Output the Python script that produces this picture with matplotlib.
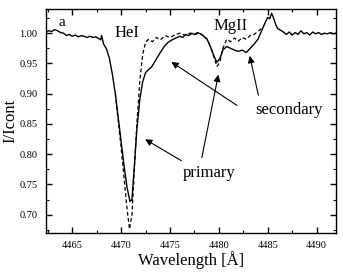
import matplotlib
matplotlib.use("Agg")
import matplotlib.pyplot as plt
from matplotlib.ticker import MultipleLocator

# solid spectrum
wl_solid = [4462.3, 4462.6, 4462.9, 4463.2, 4463.5, 4463.8, 4464.1, 4464.4, 4464.7, 4465.0,
            4465.3, 4465.6, 4465.9, 4466.2, 4466.5, 4466.8, 4467.1, 4467.4, 4467.7, 4467.9,
            4468.0, 4468.2, 4468.5, 4468.8, 4469.1, 4469.4, 4469.7, 4470.0,
            4470.3, 4470.6, 4470.9, 4471.1, 4471.3, 4471.6, 4471.9, 4472.2, 4472.5, 4472.8,
            4473.1, 4473.4, 4473.7, 4474.0, 4474.4, 4474.8, 4475.2, 4475.6, 4476.0, 4476.3,
            4476.6, 4476.9, 4477.2, 4477.5, 4477.8, 4478.1, 4478.4, 4478.8, 4479.2, 4479.5,
            4479.8, 4480.1, 4480.4, 4480.8, 4481.2, 4481.6, 4482.0, 4482.4, 4482.8, 4483.2,
            4483.6, 4484.0, 4484.4, 4484.8, 4485.0, 4485.2, 4485.4, 4485.6, 4485.8, 4486.0,
            4486.3, 4486.6, 4486.9, 4487.2, 4487.5, 4487.8, 4488.1, 4488.4, 4488.7, 4489.0,
            4489.3, 4489.6, 4489.9, 4490.2, 4490.5, 4490.8, 4491.1, 4491.4, 4491.7, 4492.0]
flux_solid = [1.002, 1.004, 1.003, 1.006, 1.004, 1.001, 1.000, 0.996, 0.998, 0.995,
              0.997, 0.994, 0.996, 0.995, 0.993, 0.995, 0.993, 0.994, 0.991, 0.989,
              0.996, 0.982, 0.974, 0.958, 0.932, 0.900, 0.860, 0.820,
              0.780, 0.745, 0.722, 0.725, 0.770, 0.840, 0.890, 0.920, 0.935, 0.940,
              0.944, 0.952, 0.960, 0.968, 0.978, 0.985, 0.989, 0.992, 0.995, 0.993,
              0.998, 0.996, 1.000, 0.998, 1.001, 0.999, 0.996, 0.990, 0.975, 0.962,
              0.952, 0.958, 0.972, 0.978, 0.975, 0.972, 0.970, 0.972, 0.968, 0.975,
              0.982, 0.990, 1.005, 1.020, 1.026, 1.024, 1.033, 1.025, 1.015, 1.008,
              1.005, 1.002, 0.998, 1.002, 0.997, 1.001, 0.998, 1.004, 0.999, 1.001,
              0.997, 1.002, 0.999, 1.001, 0.998, 1.000, 0.999, 1.001, 0.999, 1.000]

# dashed spectrum where it departs from the solid one
wl_dash = [4469.4, 4469.7, 4470.0, 4470.3, 4470.6, 4470.85, 4471.1, 4471.3, 4471.6, 4471.9,
           4472.2, 4472.5, 4472.8, 4473.2, 4473.6, 4474.0, 4474.5, 4475.0, 4475.6, 4476.0,
           4476.5, 4477.0, 4477.5, 4478.0, 4478.4, 4478.8, 4479.2, 4479.5, 4479.8, 4480.1,
           4480.4, 4480.8, 4481.2, 4481.6, 4482.0, 4482.4, 4482.8, 4483.2, 4483.6, 4484.0,
           4484.4]
flux_dash = [0.900, 0.855, 0.810, 0.760, 0.710, 0.676, 0.700, 0.760, 0.850, 0.920,
             0.965, 0.985, 0.990, 0.986, 0.993, 0.989, 0.996, 0.993, 0.998, 1.000,
             0.997, 1.000, 0.998, 1.000, 0.996, 0.990, 0.975, 0.960, 0.945, 0.952,
             0.975, 0.990, 0.986, 0.992, 0.987, 0.993, 0.990, 0.996, 0.998, 1.003,
             1.008]

plt.rcParams["font.family"] = "Liberation Serif"

fig = plt.figure(figsize=(3.43, 2.73), dpi=100)
ax = fig.add_axes([0.134, 0.147, 0.846, 0.820])

ax.plot(wl_solid, flux_solid, color="black", lw=1.0)
ax.plot(wl_dash, flux_dash, color="black", lw=0.9, ls=(0, (3, 2)))

ax.set_xlim(4462.3, 4492.0)
ax.set_ylim(0.67, 1.04)
ax.xaxis.set_major_locator(MultipleLocator(5))
ax.xaxis.set_minor_locator(MultipleLocator(2.5))
ax.yaxis.set_major_locator(MultipleLocator(0.05))
ax.yaxis.set_minor_locator(MultipleLocator(0.025))
ax.yaxis.set_major_formatter(plt.FormatStrFormatter("%.2f"))
ax.tick_params(which="both", direction="in", top=True, right=True, labelsize=7.5, colors="black")
ax.tick_params(which="major", length=4, width=1, pad=6)
ax.tick_params(which="minor", length=2, width=0.8)
for s in ax.spines.values():
    s.set_linewidth(1.0)

ax.set_xlabel("Wavelength [Å]", fontsize=12, labelpad=1)
ax.set_ylabel("I/Icont", fontsize=12, labelpad=1)

ax.text(4463.9, 1.018, "a", fontsize=11, ha="center", va="center")
ax.text(4470.6, 1.001, "HeI", fontsize=12, ha="center", va="center")
ax.text(4481.2, 1.012, "MgII", fontsize=12, ha="center", va="center")
ax.text(4487.2, 0.873, "secondary", fontsize=12, ha="center", va="center")
ax.text(4479.0, 0.769, "primary", fontsize=12, ha="center", va="center")

arr = dict(arrowstyle="-|>", color="black", lw=0.8, mutation_scale=10)
ax.annotate("", xy=(4474.9, 0.955), xytext=(4482.1, 0.878), arrowprops=arr)
ax.annotate("", xy=(4483.1, 0.967), xytext=(4484.1, 0.893), arrowprops=arr)
ax.annotate("", xy=(4472.2, 0.827), xytext=(4476.4, 0.787), arrowprops=arr)
ax.annotate("", xy=(4480.0, 0.936), xytext=(4478.2, 0.790), arrowprops=arr)

fig.savefig("out.png", dpi=100)
